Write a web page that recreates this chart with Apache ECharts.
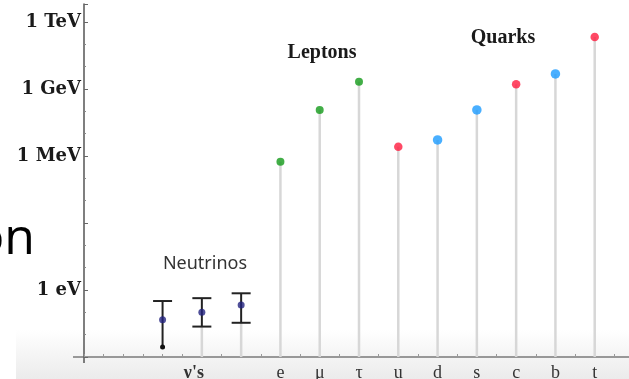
<!DOCTYPE html>
<html>
<head>
<meta charset="utf-8">
<script src="https://cdn.jsdelivr.net/npm/echarts@6/dist/echarts.min.js"></script>
<style>html,body{margin:0;padding:0;background:#fff;}#c{width:629px;height:379px;}</style>
</head>
<body>
<div id="c"></div>
<script>
// ---- data (masses in eV) ----
const particles = ['ν1', 'ν2', 'ν3', 'e', 'μ', 'τ', 'u', 'd', 's', 'c', 'b', 't'];
const tickLabels = ['', "ν's", '', 'e', 'μ', 'τ', 'u', 'd', 's', 'c', 'b', 't'];
const leptonNames = ['e', 'μ', 'τ'];
const leptonMass = [5.5e5, 1.15e8, 2.1e9];
const quarkNames = ['u', 'd', 's', 'c', 'b', 't'];
const quarkMass = [2.6e6, 5.2e6, 1.15e8, 1.6e9, 4.7e9, 2.1e11];
const quarkType = ['up', 'down', 'down', 'up', 'down', 'up'];
const neutrinoNames = ['ν1', 'ν2', 'ν3'];
const neutrinoMass = [0.046, 0.10, 0.21];
const neutrinoHigh = [0.32, 0.43, 0.71];
const neutrinoLow = [0.0028, 0.023, 0.034];
const neutrinoUpperLimitOnly = [true, false, false];
const yTickLabels = { '0': '1 eV', '6': '1 MeV', '9': '1 GeV', '12': '1 TeV' };

const Y_MIN = -3, Y_MAX = 12.8;
const lg = v => Math.log10(v);
const pos = name => particles.indexOf(name) + 2;

const stemData = [];
leptonNames.forEach((n, i) => stemData.push([pos(n), lg(leptonMass[i])]));
quarkNames.forEach((n, i) => stemData.push([pos(n), lg(quarkMass[i])]));
neutrinoNames.forEach((n, i) => { if (!neutrinoUpperLimitOnly[i]) stemData.push([pos(n), lg(neutrinoLow[i])]); });

const errData = neutrinoNames.map((n, i) => [pos(n), lg(neutrinoLow[i]), lg(neutrinoHigh[i]), neutrinoUpperLimitOnly[i] ? 1 : 0]);

const chart = echarts.init(document.getElementById('c'));
const serif = '"DejaVu Serif", serif';
chart.setOption({
  animation: false,
  backgroundColor: '#fff',
  grid: { left: 84, width: 550, top: 4, bottom: 22, containLabel: false, outerBoundsMode: 'none' },
  xAxis: {
    type: 'value', min: 0, max: 14, interval: 0.5,
    axisLine: { onZero: false, lineStyle: { color: '#7a7a7a', width: 1.5 } },
    axisTick: { show: true, inside: true, length: 3, lineStyle: { color: '#999' } },
    splitLine: { show: false },
    axisLabel: {
      margin: 7, color: '#333', fontFamily: '"Liberation Serif", serif', fontSize: 18,
      showMinLabel: true, showMaxLabel: true,
      formatter: v => {
        if (Math.abs(v - Math.round(v)) > 1e-6) return '';
        const idx = Math.round(v) - 2;
        const t = tickLabels[idx];
        if (!t) return '';
        if (t === "ν's") return '{nu|' + t + '}';
        return t;
      },
      rich: { nu: { fontFamily: '"Liberation Serif", serif', fontSize: 18, color: '#333', fontWeight: 'bold', padding: [0, 16, 0, 0] } }
    }
  },
  yAxis: {
    type: 'value', min: Y_MIN, max: Y_MAX, interval: 3,
    axisLine: { show: true, onZero: false, lineStyle: { color: '#555', width: 1.5 } },
    axisTick: { show: true, inside: true, length: 4, lineStyle: { color: '#666' } },
    minorTick: { show: true, splitNumber: 3, length: 2, lineStyle: { color: '#888' } },
    splitLine: { show: false },
    axisLabel: {
      margin: 3, color: '#1a1a1a', fontFamily: serif, fontWeight: 'bold', fontSize: 18,
      showMaxLabel: false,
      formatter: v => yTickLabels[String(Math.round(v))] && Math.abs(v - Math.round(v)) < 1e-6 ? yTickLabels[String(Math.round(v))] : ''
    }
  },
  graphic: [
    { type: 'rect', z: -10, shape: { x: 16, y: 330, width: 613, height: 49 },
      style: { fill: new echarts.graphic.LinearGradient(0, 0, 0, 1, [{ offset: 0, color: '#ffffff' }, { offset: 1, color: '#ebebeb' }]) } },
    { type: 'line', shape: { x1: 73, y1: 357, x2: 84, y2: 357 }, style: { stroke: '#7a7a7a', lineWidth: 1.5 } },
    { type: 'line', shape: { x1: 84, y1: 357, x2: 84, y2: 363 }, style: { stroke: '#555', lineWidth: 1.5 } },
    { type: 'text', x: 322, y: 53, style: { text: 'Leptons', fill: '#1a1a1a', font: 'bold 20px "Liberation Serif", serif', textAlign: 'center', textVerticalAlign: 'middle' } },
    { type: 'text', x: 503, y: 38, style: { text: 'Quarks', fill: '#1a1a1a', font: 'bold 20px "Liberation Serif", serif', textAlign: 'center', textVerticalAlign: 'middle' } },
    { type: 'text', x: 205, y: 264, style: { text: 'Neutrinos', fill: '#333', font: '18px "Noto Sans", sans-serif', textAlign: 'center', textVerticalAlign: 'middle' } },
    { type: 'text', x: 35, y: 240, style: { text: 'on', fill: '#000', font: '50px "Open Sans", sans-serif', textAlign: 'right', textVerticalAlign: 'middle' } }
  ],
  series: [
    {
      type: 'custom', z: 1, data: stemData,
      renderItem: (params, api) => {
        const p0 = api.coord([api.value(0), Y_MIN]);
        const p1 = api.coord([api.value(0), api.value(1)]);
        return { type: 'line', shape: { x1: p0[0], y1: p0[1], x2: p1[0], y2: p1[1] }, style: { stroke: '#d7d7d7', lineWidth: 2.5 } };
      }
    },
    {
      type: 'custom', z: 2, data: errData,
      renderItem: (params, api) => {
        const x = api.value(0);
        const lo = api.coord([x, api.value(1)]);
        const hi = api.coord([x, api.value(2)]);
        const limit = api.value(3) === 1;
        const cw = 9.5;
        const kids = [
          { type: 'line', shape: { x1: lo[0], y1: lo[1], x2: hi[0], y2: hi[1] }, style: { stroke: '#222', lineWidth: 2 } },
          { type: 'line', shape: { x1: hi[0] - cw, y1: hi[1], x2: hi[0] + cw, y2: hi[1] }, style: { stroke: '#222', lineWidth: 2 } }
        ];
        if (limit) kids.push({ type: 'circle', shape: { cx: lo[0], cy: lo[1], r: 2.5 }, style: { fill: '#111' } });
        else kids.push({ type: 'line', shape: { x1: lo[0] - cw, y1: lo[1], x2: lo[0] + cw, y2: lo[1] }, style: { stroke: '#222', lineWidth: 2 } });
        return { type: 'group', children: kids };
      }
    },
    {
      type: 'scatter', z: 3, symbolSize: 7,
      itemStyle: { color: '#232380' },
      data: neutrinoNames.map((n, i) => [pos(n), lg(neutrinoMass[i])])
    },
    {
      type: 'scatter', z: 3, symbolSize: 8,
      itemStyle: { color: '#139a19' },
      data: leptonNames.map((n, i) => [pos(n), lg(leptonMass[i])])
    },
    {
      type: 'scatter', z: 3,
      data: quarkNames.map((n, i) => ({
        value: [pos(n), lg(quarkMass[i])],
        symbolSize: quarkType[i] === 'up' ? 8.5 : 9.5,
        itemStyle: { color: quarkType[i] === 'up' ? '#ff1c3e' : '#1b9bff' }
      }))
    }
  ]
});
</script>
</body>
</html>
